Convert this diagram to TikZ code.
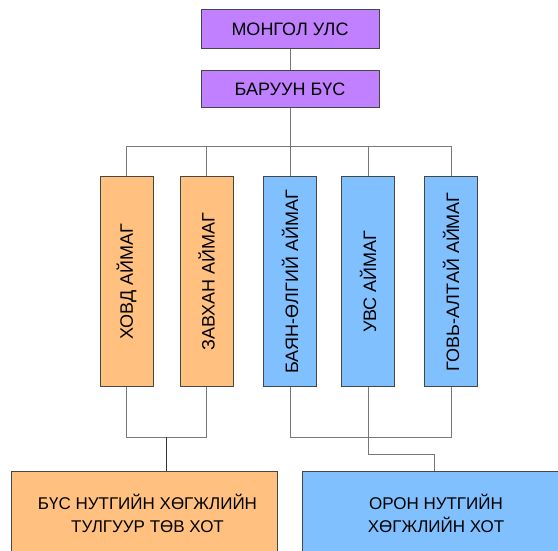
\documentclass[tikz,border=0pt]{standalone}
\usepackage{fontspec}
\usepackage{graphicx}
\setmainfont{Liberation Sans}
\definecolor{purp}{RGB}{192,128,255}
\definecolor{orng}{RGB}{255,192,128}
\definecolor{blu}{RGB}{128,192,255}
\definecolor{edge}{RGB}{70,70,70}
\definecolor{wire}{RGB}{120,120,120}
\tikzset{
  boxbase/.style={draw=edge, line width=0.9pt, inner sep=0pt, align=center,
    font=\fontsize{18}{22}\selectfont},
  topbox/.style={boxbase, fill=purp, minimum width=178pt, minimum height=38.5pt},
  vbox/.style={boxbase, minimum width=53pt, minimum height=210pt},
  obox/.style={vbox, fill=orng},
  bbox/.style={vbox, fill=blu},
  botbox/.style={boxbase, minimum width=266pt, minimum height=86pt},
  bottext/.style={font=\fontsize{17}{23.5}\selectfont, align=center, inner sep=0pt},
  wireline/.style={draw=wire, line width=0.9pt},
}
\begin{document}
\begin{tikzpicture}[x=1pt,y=-1pt]
\clip (0,0) rectangle (558,550);
\fill[white] (0,0) rectangle (558,550);
\node[topbox] (mon) at (290,29) {МОНГОЛ УЛС};
\node[topbox, minimum height=37.5pt] (bar) at (290,89) {БАРУУН БҮС};
\node[obox] (hovd) at (126.5,281.7) {\rotatebox{90}{ХОВД АЙМАГ}};
\node[obox] (zav) at (206.7,281.7) {\rotatebox{90}{ЗАВХАН АЙМАГ}};
\node[bbox] (bay) at (290,281.7) {\rotatebox{90}{БАЯН-ӨЛГИЙ АЙМАГ}};
\node[bbox] (uvs) at (368,281.7) {\rotatebox{90}{УВС АЙМАГ}};
\node[bbox] (gov) at (451,281.7) {\rotatebox{90}{ГОВЬ-АЛТАЙ АЙМАГ}};
\node[botbox, fill=orng] (lb) at (144.5,514) {};
\node[botbox, fill=blu, minimum width=268pt] (rb) at (436,514) {};
\node[bottext] (lbt) at (147.5,513.5) {БҮС НУТГИЙН ХӨГЖЛИЙН\\ТУЛГУУР ТӨВ ХОТ};
\node[bottext] (rbt) at (436,513.5) {ОРОН НУТГИЙН\\ХӨГЖЛИЙН ХОТ};
\coordinate (busy) at (0,146.5);
\coordinate (lowy) at (0,437.3);
\coordinate (jl) at (166.5,437.3);
\coordinate (jr) at (434.3,454.3);
\draw[wireline] (mon.south) -- (bar.north);
\draw[wireline] (bar.south) -- (bar.south |- busy);
\draw[wireline] (hovd.north) -- (hovd.north |- busy) -- (gov.north |- busy) -- (gov.north);
\draw[wireline] (zav.north) -- (zav.north |- busy);
\draw[wireline] (bay.north) -- (bay.north |- busy);
\draw[wireline] (uvs.north) -- (uvs.north |- busy);
\draw[wireline] (hovd.south) -- (hovd.south |- lowy) -- (zav.south |- lowy) -- (zav.south);
\draw[draw=black!80, line width=0.9pt] (jl) -- (jl |- lb.north);
\draw[wireline] (bay.south) -- (bay.south |- lowy) -- (gov.south |- lowy) -- (gov.south);
\draw[wireline] (uvs.south) -- (uvs.south |- jr) -- (jr) -- (jr |- rb.north);
\end{tikzpicture}
\end{document}
